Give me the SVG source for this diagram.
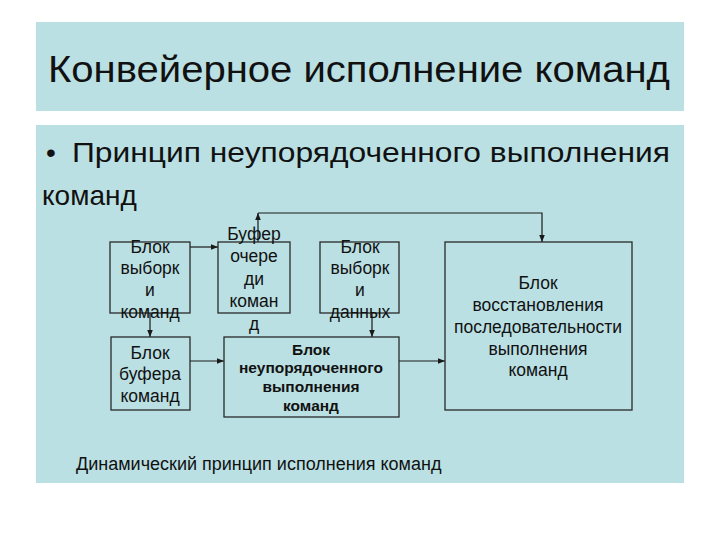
<svg xmlns="http://www.w3.org/2000/svg" width="720" height="540" viewBox="0 0 720 540">
<style>
.panel{fill:#BAE0E3}
.box{fill:none;stroke:#2a2a2a;stroke-width:1.3}
.t{font-family:"Liberation Sans",Arial,sans-serif;font-size:17.5px;fill:#111;text-anchor:middle}
.b{font-family:"Liberation Sans",Arial,sans-serif;font-size:15.5px;font-weight:bold;fill:#111;text-anchor:middle}
.c{fill:none;stroke:#1a1a1a;stroke-width:1.2}
</style>
<defs>
<marker id="ah" viewBox="0 0 10 10" refX="10" refY="5" markerWidth="7" markerHeight="7" orient="auto" markerUnits="userSpaceOnUse">
<path d="M0,1 L10,5 L0,9 z" fill="#1a1a1a"/>
</marker>
</defs>
<rect width="720" height="540" fill="#ffffff"/>
<rect class="panel" x="36" y="22" width="648" height="89"/>
<rect class="panel" x="36" y="125" width="648" height="358"/>
<text x="48" y="82" font-family="'Liberation Sans',Arial,sans-serif" font-size="36" fill="#111" textLength="622" lengthAdjust="spacingAndGlyphs">Конвейерное исполнение команд</text>
<text x="46" y="162" font-family="'Liberation Sans',Arial,sans-serif" font-size="28" fill="#111">•</text>
<text x="72" y="162" font-family="'Liberation Sans',Arial,sans-serif" font-size="28" fill="#111" textLength="598" lengthAdjust="spacingAndGlyphs">Принцип неупорядоченного выполнения</text>
<text x="42" y="205" font-family="'Liberation Sans',Arial,sans-serif" font-size="28" fill="#111">команд</text>

<g id="connectors">
<path class="c" d="M190,247 H218" marker-end="url(#ah)"/>
<path class="c" d="M258,242 V213" marker-end="url(#ah)"/>
<path class="c" d="M258,213 H542 V242" marker-end="url(#ah)"/>
<path class="c" d="M150,313 V337" marker-end="url(#ah)"/>
<path class="c" d="M372,313 V337" marker-end="url(#ah)"/>
<path class="c" d="M190,361 H224" marker-end="url(#ah)"/>
<path class="c" d="M399,361 H445" marker-end="url(#ah)"/>
</g>

<g id="fetch-instr">
<rect class="box" x="110" y="242" width="80" height="71"/>
<text class="t" x="150" y="253">Блок</text>
<text class="t" x="150" y="274">выборк</text>
<text class="t" x="150" y="296">и</text>
<text class="t" x="150" y="318">команд</text>
</g>
<g id="queue">
<rect class="box" x="218" y="242" width="72" height="71"/>
<text class="t" x="254" y="240">Буфер</text>
<text class="t" x="254" y="262">очере</text>
<text class="t" x="254" y="285">ди</text>
<text class="t" x="254" y="307">коман</text>
<text class="t" x="254" y="330">д</text>
</g>
<g id="fetch-data">
<rect class="box" x="320" y="242" width="79" height="71"/>
<text class="t" x="360" y="253">Блок</text>
<text class="t" x="360" y="274">выборк</text>
<text class="t" x="360" y="296">и</text>
<text class="t" x="360" y="318">данных</text>
</g>
<g id="restore">
<rect class="box" x="445" y="242" width="187" height="168"/>
<text class="t" x="538" y="289">Блок</text>
<text class="t" x="538" y="311">восстановления</text>
<text class="t" x="538" y="333">последовательности</text>
<text class="t" x="538" y="355">выполнения</text>
<text class="t" x="538" y="376">команд</text>
</g>
<g id="buffer">
<rect class="box" x="111" y="337" width="79" height="73"/>
<text class="t" x="150" y="359">Блок</text>
<text class="t" x="150" y="380">буфера</text>
<text class="t" x="150" y="402">команд</text>
</g>
<g id="ooo">
<rect class="box" x="224" y="337" width="175" height="80"/>
<text class="b" x="311" y="355">Блок</text>
<text class="b" x="311" y="373">неупорядоченного</text>
<text class="b" x="311" y="392">выполнения</text>
<text class="b" x="311" y="411">команд</text>
</g>
<text x="76" y="470" font-family="'Liberation Sans',Arial,sans-serif" font-size="18" fill="#111">Динамический принцип исполнения команд</text>
</svg>
